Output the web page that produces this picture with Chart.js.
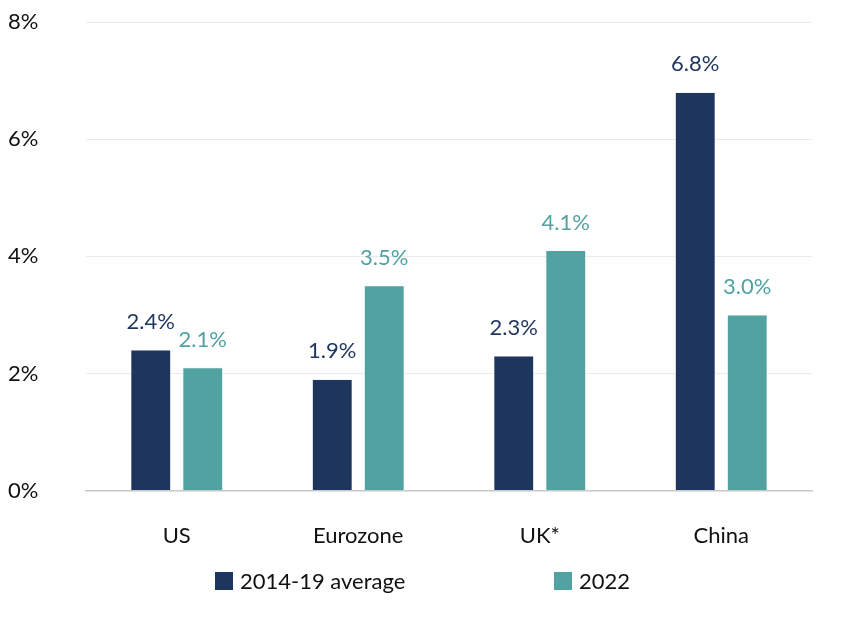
<!DOCTYPE html>
<html>
<head>
<meta charset="utf-8">
<script src="https://cdn.jsdelivr.net/npm/chart.js@4"></script>
<style>
  html, body { margin: 0; padding: 0; background: #fff; }
  #wrap { width: 850px; height: 619px; }
</style>
</head>
<body>
<div id="wrap"><canvas id="grafica"></canvas></div>
<script>
const categories = ["US", "Eurozone", "UK*", "China"];
const avg2014_19 = [2.4, 1.9, 2.3, 6.8];
const y2022 = [2.1, 3.5, 4.1, 3.0];
const yTicks = [0, 2, 4, 6, 8];

const DARK = "#1e355e";
const TEAL = "#52a2a2";
const FONT = "Lato, 'Noto Sans', sans-serif";

// value labels above each bar, in the bar colour
const valueLabels = {
    id: "valueLabels",
    afterDatasetsDraw(chart) {
        const ctx = chart.ctx;
        ctx.save();
        ctx.font = "22px " + FONT;
        ctx.textAlign = "center";
        ctx.textBaseline = "bottom";
        chart.data.datasets.forEach((ds, i) => {
            chart.getDatasetMeta(i).data.forEach((bar, j) => {
                ctx.fillStyle = ds.backgroundColor;
                ctx.fillText(ds.data[j].toFixed(1) + "%", bar.x, bar.y - 17);
            });
        });
        ctx.restore();
    }
};

// legend drawn by hand, items spread wide like the original
const wideLegend = {
    id: "wideLegend",
    afterDraw(chart) {
        const ctx = chart.ctx;
        const starts = [215, 554];
        const y = 581;
        ctx.save();
        ctx.font = "22px " + FONT;
        ctx.textBaseline = "middle";
        ctx.textAlign = "left";
        chart.data.datasets.forEach((ds, i) => {
            ctx.fillStyle = ds.backgroundColor;
            ctx.fillRect(starts[i], y - 9, 18, 18);
            ctx.fillStyle = "#111";
            ctx.fillText(ds.label, starts[i] + 25, y + 1);
        });
        ctx.restore();
    }
};

const ctx = document.getElementById("grafica").getContext("2d");
const grafica = new Chart(ctx, {
    type: "bar",
    data: {
        labels: categories,
        datasets: [{
            label: "2014-19 average",
            data: avg2014_19,
            backgroundColor: DARK,
            borderColor: "#e8edf3",
            borderWidth: 0.6
        }, {
            label: "2022",
            data: y2022,
            backgroundColor: TEAL,
            borderColor: "#e3f1f1",
            borderWidth: 0.6
        }]
    },
    options: {
        responsive: true,
        maintainAspectRatio: false,
        animation: false,
        devicePixelRatio: 1,
        layout: { padding: { left: 8, right: 38, top: 22, bottom: 46 } },
        datasets: {
            bar: { categoryPercentage: 0.573, barPercentage: 0.77 }
        },
        plugins: {
            legend: { display: false },
            tooltip: { enabled: false }
        },
        scales: {
            x: {
                grid: { display: false },
                border: { display: true, color: "#c8c8c8", width: 1.5 },
                ticks: {
                    color: "#111",
                    font: { family: FONT, size: 22 },
                    padding: 24
                }
            },
            y: {
                min: 0,
                max: 8,
                afterBuildTicks(scale) {
                    scale.ticks = yTicks.map(v => ({ value: v }));
                },
                afterFit(scale) { scale.width = 78; },
                grid: { color: "#ebebeb", drawTicks: false },
                border: { display: false },
                ticks: {
                    color: "#111",
                    crossAlign: "far",
                    font: { family: FONT, size: 22 },
                    callback: v => v + "%"
                }
            }
        }
    },
    plugins: [valueLabels, wideLegend]
});
</script>
</body>
</html>
